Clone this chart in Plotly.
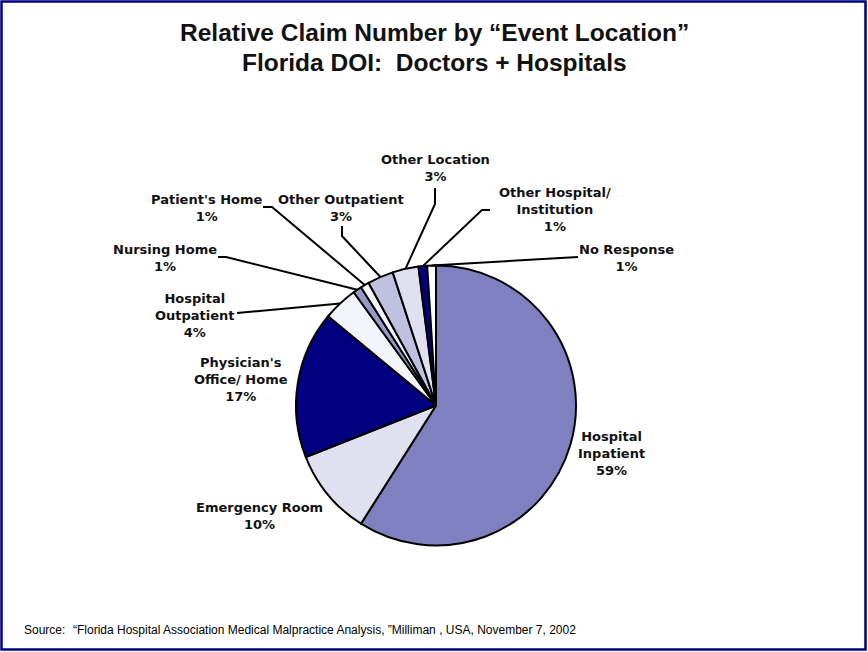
import math
import plotly.graph_objects as go

# Share of claims by event location (percent), clockwise from 12 o'clock
locations = [
    "Hospital<br>Inpatient",
    "Emergency Room",
    "Physician's<br>Office/ Home",
    "Hospital<br>Outpatient",
    "Nursing Home",
    "Patient's Home",
    "Other Outpatient",
    "Other Location",
    "Other Hospital/<br>Institution",
    "No Response",
]
shares = [59, 10, 17, 4, 1, 1, 3, 3, 1, 1]
slice_colors = [
    "#8080C0", "#E0E0F0", "#000080", "#F4F4FC", "#9999CC",
    "#F4F4FC", "#C0C0E0", "#E0E0F0", "#000080", "#FFFFFF",
]

W, H = 868, 652
CX, CY, R = 436, 405.5, 140  # pie centre and radius in pixels


def px(x):
    return x / W


def py(y):
    return 1 - y / H


fig = go.Figure(go.Pie(
    labels=locations,
    values=shares,
    sort=False,
    direction="clockwise",
    rotation=0,
    textinfo="none",
    hoverinfo="label+percent",
    marker=dict(colors=slice_colors, line=dict(color="black", width=2)),
    domain=dict(x=[px(CX - R), px(CX + R)], y=[py(CY + R), py(CY - R)]),
))

# label block centres (pixels) and leader-line elbows (None = no leader)
label_pos = [
    (611, 453), (259, 516), (241, 379), (195, 315), (165, 258),
    (207, 207.5), (341, 207.5), (435, 167.5), (555, 209), (626, 258),
]
leader_start = [
    None, None, None,
    [(237, 313)],
    [(218, 257), (226, 257)],
    [(263, 207), (272, 207)],
    [(342, 226), (342, 236)],
    [(435, 188), (435, 204)],
    [(490, 210), (482, 210)],
    [(578, 257)],
]

total = sum(shares)
cum = 0
annotations = []
shapes = []
for name, val, (lx, ly), lead in zip(locations, shares, label_pos, leader_start):
    mid = (cum + val / 2) / total
    cum += val
    annotations.append(dict(
        x=px(lx), y=py(ly), xref="paper", yref="paper",
        text=f"{name}<br>{val}%", showarrow=False,
        xanchor="center", yanchor="middle", align="center",
        font=dict(family="DejaVu Sans", size=13, color="#111111", weight="bold"),
    ))
    if lead:
        th = 2 * math.pi * mid
        ex, ey = CX + R * math.sin(th), CY - R * math.cos(th)
        pts = lead + [(ex, ey)]
        path = "M " + " L ".join(f"{px(x)},{py(y)}" for x, y in pts)
        shapes.append(dict(type="path", xref="paper", yref="paper", path=path,
                           line=dict(color="black", width=2)))

# frame around the slide
shapes.append(dict(type="rect", xref="paper", yref="paper",
                   x0=px(1.5), x1=px(865.5), y0=py(649.5), y1=py(1.5),
                   line=dict(color="#000080", width=2.5)))

title_font = dict(family="Liberation Sans", size=24.5, color="#111111", weight="bold")
annotations += [
    dict(x=px(434), y=py(32), xref="paper", yref="paper", showarrow=False,
         text="Relative Claim Number by \u201cEvent Location\u201d",
         xanchor="center", yanchor="middle", font=title_font),
    dict(x=px(434), y=py(62), xref="paper", yref="paper", showarrow=False,
         text="Florida DOI:  Doctors + Hospitals",
         xanchor="center", yanchor="middle", font=title_font),
    dict(x=px(22), y=py(630), xref="paper", yref="paper", showarrow=False,
         text="Source:", xanchor="left", yanchor="middle",
         font=dict(family="Liberation Sans", size=12, color="black")),
    dict(x=px(71), y=py(630), xref="paper", yref="paper", showarrow=False,
         text="\u201cFlorida Hospital Association Medical Malpractice Analysis, \u201dMilliman , USA, November 7, 2002",
         xanchor="left", yanchor="middle",
         font=dict(family="Liberation Sans", size=12, color="black")),
]

fig.update_layout(
    width=W, height=H,
    margin=dict(l=0, r=0, t=0, b=0),
    paper_bgcolor="white", plot_bgcolor="white",
    showlegend=False,
    annotations=annotations,
    shapes=shapes,
)

fig.write_html("out.html")
